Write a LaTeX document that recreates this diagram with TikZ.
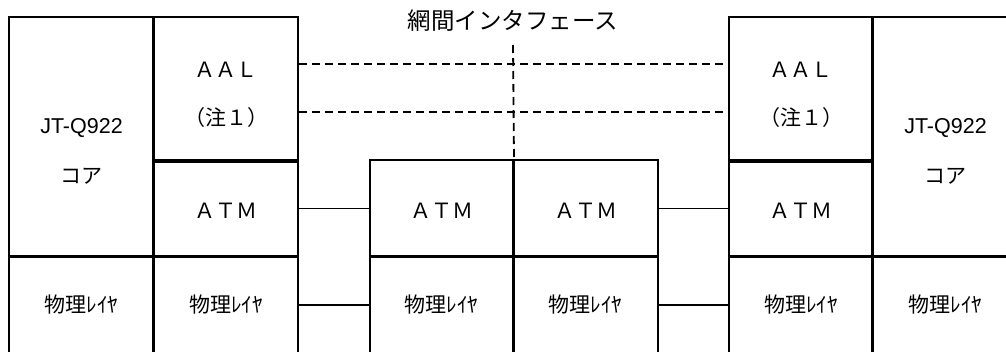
\documentclass[tikz,border=0pt]{standalone}
\usepackage{fontspec}
\setmainfont{Liberation Sans}
\newfontfamily\jp{Noto Sans CJK JP}
\tikzset{
  cell/.style={draw=black, line width=2pt, rectangle, inner sep=0pt},
  sep/.style={draw=black, line width=3pt},
  link/.style={draw=black, line width=1.6pt},
  dashlink/.style={draw=black, line width=1.8pt, dash pattern=on 8pt off 5pt},
  lbl/.style={inner sep=0pt, font=\jp\fontsize{21}{24}\selectfont},
  lat/.style={inner sep=0pt, font=\fontsize{21.5}{24}\selectfont},
}
\begin{document}
\begin{tikzpicture}[x=1pt,y=-1pt]
\useasboundingbox[fill=white] (0,0) rectangle (1006,351);
% left block
\node[cell, minimum width=145pt, minimum height=240pt] (Lcore) at (81.5,137) {};
\node[cell, minimum width=144pt, minimum height=143pt] (Laal) at (226,88.5) {};
\node[cell, minimum width=144pt, minimum height=97pt] (Latm) at (226,208.5) {};
\node[cell, minimum width=145pt, minimum height=113pt] (Lphy1) at (81.5,313.5) {};
\node[cell, minimum width=144pt, minimum height=113pt] (Lphy2) at (226,313.5) {};
% middle block
\node[cell, minimum width=143pt, minimum height=97pt] (Matm1) at (441.5,208.5) {};
\node[cell, minimum width=145pt, minimum height=97pt] (Matm2) at (585.5,208.5) {};
\node[cell, minimum width=143pt, minimum height=113pt] (Mphy1) at (441.5,313.5) {};
\node[cell, minimum width=145pt, minimum height=113pt] (Mphy2) at (585.5,313.5) {};
% right block
\node[cell, minimum width=144pt, minimum height=143pt] (Raal) at (801,88.5) {};
\node[cell, minimum width=144pt, minimum height=97pt] (Ratm) at (801,208.5) {};
\node[cell, minimum width=145pt, minimum height=240pt] (Rcore) at (945.5,137) {};
\node[cell, minimum width=144pt, minimum height=113pt] (Rphy2) at (801,313.5) {};
\node[cell, minimum width=145pt, minimum height=113pt] (Rphy1) at (945.5,313.5) {};
% thick separators
\draw[sep] (Lphy1.north west) -- (Lphy2.north east);
\draw[sep] (Mphy1.north west) -- (Mphy2.north east);
\draw[sep] (Rphy2.north west) -- (Rphy1.north east);
\draw[sep] (Laal.north west) -- (Lphy2.south west);
\draw[sep] (Rcore.north west) -- (Rphy1.south west);
\draw[sep] (Laal.south west) -- (Laal.south east);
\draw[sep] (Raal.south west) -- (Raal.south east);
\draw[line width=2.4pt] (Matm1.north east) -- (Mphy1.south east);
% texts
\node[lat] (Lj) at (81.5,128) {JT-Q922};
\node[lbl] (Lk) at (81.5,176) {コア};
\node[lbl] (La1) at (226,70) {ＡＡＬ};
\node[lbl] (La2) at (226,118) {（注１）};
\node[lbl] (Lat) at (226,211) {ＡＴＭ};
\node[lbl] (Lp1) at (81.5,305) {物理ﾚｲﾔ};
\node[lbl] (Lp2) at (226,305) {物理ﾚｲﾔ};
\node[lbl] (Mat1) at (441.5,211) {ＡＴＭ};
\node[lbl] (Mat2) at (585.5,211) {ＡＴＭ};
\node[lbl] (Mp1) at (441.5,305) {物理ﾚｲﾔ};
\node[lbl] (Mp2) at (585.5,305) {物理ﾚｲﾔ};
\node[lbl] (Ra1) at (801,70) {ＡＡＬ};
\node[lbl] (Ra2) at (801,118) {（注１）};
\node[lbl] (Rat) at (801,211) {ＡＴＭ};
\node[lat] (Rj) at (945.5,128) {JT-Q922};
\node[lbl] (Rk) at (945.5,176) {コア};
\node[lbl] (Rp2) at (801,305) {物理ﾚｲﾔ};
\node[lbl] (Rp1) at (945.5,305) {物理ﾚｲﾔ};
\node[inner sep=0pt, font=\jp\fontsize{23.5}{26}\selectfont] (title) at (513,21) {網間インタフェース};
% connectors
\draw[link] (Latm.east) -- (Matm1.west);
\draw[link] (Matm2.east) -- (Ratm.west);
\draw[link] (Lphy2.east |- Lp2) -- (Mphy1.west |- Lp2);
\draw[link] (Mphy2.east |- Mp2) -- (Rphy2.west |- Mp2);
\draw[dashlink] ([yshift=-48pt]Laal.north east) -- ([yshift=-48pt]Raal.north west);
\draw[dashlink] ([yshift=-96pt]Laal.north east) -- ([yshift=-96pt]Raal.north west);
\coordinate (ifc) at (513,45);
\draw[dashlink] (ifc) -- (Matm1.north east);
\end{tikzpicture}
\end{document}
